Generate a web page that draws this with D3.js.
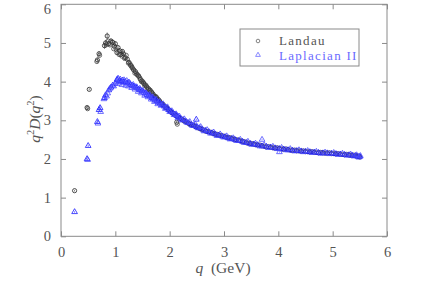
<!DOCTYPE html>
<html><head><meta charset="utf-8">
<script src="https://cdn.jsdelivr.net/npm/d3@7/dist/d3.min.js"></script>
<style>body{margin:0;background:#fff}</style>
</head><body><svg id="c" width="432" height="304"></svg>
<script>
const xTicks = [0,1,2,3,4,5,6];
const yTicks = [0,1,2,3,4,5,6];
const seriesNames = ["Landau", "Laplacian II"];

const qLandau = [0.25,0.48,0.52,0.67,0.70,0.80,0.82,0.85,0.88,0.92,0.95,0.98,1.00,1.03,1.05,1.08,1.10,1.13,1.15,1.18,1.22,1.25,1.28,1.31,1.34,1.37,1.40,1.43,1.46,1.49,1.52,1.55,1.58,1.61,1.64,1.67,1.70,1.73,1.76,1.79,1.82,1.86,1.90,1.94,1.98,2.02,2.06,2.10,2.13,2.16,2.20,2.25,2.30,2.35,2.40,2.45,2.50,2.55,2.60,2.66,2.72,2.78,2.84,2.90,2.96,3.02,3.08,3.14,3.20,3.27,3.34,3.41,3.48,3.55,3.62,3.70,3.78,3.86,3.94,4.02,4.10,4.18,4.26,4.34,4.42,4.50,4.58,4.66,4.74,4.82,4.90,4.98,5.06,5.14,5.22,5.30,5.36,5.42,5.46,5.50];
const vLandau = [1.18,3.33,3.80,4.56,4.72,4.93,5.00,5.18,4.98,5.05,5.02,4.92,4.98,4.75,4.88,4.80,4.70,4.78,4.72,4.62,4.58,4.50,4.42,4.36,4.30,4.26,4.18,4.14,4.06,4.02,3.96,3.92,3.86,3.82,3.78,3.72,3.66,3.62,3.58,3.54,3.48,3.42,3.37,3.33,3.28,3.22,3.19,3.14,2.95,3.08,3.05,3.00,2.96,2.92,2.88,2.86,2.82,2.79,2.76,2.72,2.70,2.67,2.64,2.62,2.60,2.57,2.55,2.53,2.50,2.48,2.45,2.42,2.40,2.38,2.36,2.34,2.31,2.30,2.28,2.27,2.25,2.24,2.22,2.21,2.20,2.19,2.18,2.17,2.16,2.16,2.15,2.14,2.13,2.12,2.11,2.10,2.09,2.08,2.07,2.05];
const eLandau = [0.02,0.04,0.03,0.06,0.07,0.08,0.08,0.09,0.07,0.07,0.06,0.06,0.06,0.05,0.05,0.05,0.05,0.05,0.04,0.04,0.04,0.04,0.04,0.04,0.04,0.03,0.03,0.03,0.03,0.03,0.03,0.03,0.03,0.03,0.03,0.03,0.03,0.03,0.03,0.03,0.03,0.03,0.03,0.03,0.03,0.03,0.03,0.03,0.03,0.02,0.02,0.02,0.02,0.02,0.02,0.02,0.02,0.02,0.02,0.02,0.02,0.02,0.02,0.02,0.02,0.02,0.02,0.02,0.02,0.02,0.02,0.02,0.02,0.02,0.02,0.02,0.02,0.02,0.02,0.02,0.02,0.02,0.02,0.02,0.02,0.02,0.02,0.02,0.02,0.02,0.02,0.02,0.02,0.02,0.02,0.02,0.02,0.02,0.02,0.02];

// second set of Landau lattice points (other volumes)
const qLandau2 = [0.49,0.66,0.71,0.83,0.87,0.90,0.97,1.02,1.07,1.12,1.17,1.20,1.24,1.27,1.30,1.33,1.36,1.39,1.42,1.45,1.48,1.51,1.54,1.57,1.60,1.63,1.66,1.69,1.72,1.75,1.78,1.81,1.84,1.88,1.92,1.96,2.00,2.04,2.08,2.12,2.14,2.18,2.22,2.27,2.32,2.37,2.42,2.47,2.52,2.57,2.63,2.69,2.75,2.81,2.87,2.93,2.99,3.05,3.11,3.17,3.23,3.30,3.37,3.44,3.51,3.58,3.66,3.74,3.82,3.90,3.98,4.06,4.14,4.22,4.30,4.38,4.46,4.54,4.62,4.70,4.78,4.86,4.94,5.02,5.10,5.18,5.26,5.33,5.39,5.44,5.48];
const vLandau2 = [3.30,4.52,4.68,4.95,5.05,4.95,4.85,4.82,4.70,4.66,4.60,4.68,4.48,4.46,4.40,4.32,4.22,4.21,4.16,4.10,4.00,3.99,3.90,3.89,3.80,3.77,3.74,3.69,3.60,3.61,3.52,3.51,3.44,3.41,3.34,3.31,3.25,3.21,3.16,3.12,2.90,3.06,3.03,2.98,2.95,2.90,2.88,2.84,2.81,2.78,2.75,2.71,2.69,2.66,2.64,2.61,2.59,2.56,2.55,2.52,2.50,2.47,2.45,2.41,2.40,2.37,2.36,2.33,2.32,2.29,2.29,2.26,2.26,2.23,2.23,2.21,2.21,2.19,2.19,2.17,2.17,2.15,2.16,2.14,2.14,2.12,2.12,2.10,2.10,2.08,2.07];

const qLap = [0.25,0.48,0.50,0.67,0.70,0.72,0.80,0.82,0.88,0.92,0.95,1.00,1.03,1.05,1.08,1.10,1.13,1.15,1.18,1.22,1.25,1.28,1.31,1.34,1.37,1.40,1.43,1.46,1.49,1.52,1.55,1.58,1.61,1.64,1.67,1.70,1.73,1.76,1.79,1.82,1.86,1.90,1.94,1.98,2.02,2.06,2.10,2.13,2.16,2.20,2.25,2.30,2.35,2.40,2.45,2.49,2.50,2.55,2.60,2.66,2.72,2.78,2.84,2.90,2.96,3.02,3.08,3.14,3.20,3.27,3.34,3.41,3.48,3.55,3.62,3.70,3.78,3.86,3.94,4.02,4.10,4.18,4.26,4.34,4.42,4.50,4.58,4.66,4.74,4.82,4.90,4.98,5.06,5.14,5.22,5.30,5.36,5.42,5.46,5.50];
const vLap = [0.63,2.00,2.34,2.96,3.27,3.32,3.58,3.65,3.78,3.85,3.90,3.95,4.05,4.08,4.02,4.00,4.03,3.98,4.00,3.96,3.98,3.92,3.90,3.88,3.86,3.84,3.80,3.78,3.76,3.72,3.70,3.66,3.64,3.62,3.58,3.55,3.52,3.50,3.46,3.44,3.40,3.36,3.32,3.27,3.23,3.19,3.15,3.12,3.09,3.05,3.01,2.97,2.93,2.89,2.86,3.02,2.83,2.80,2.77,2.73,2.70,2.67,2.64,2.61,2.59,2.57,2.54,2.52,2.50,2.47,2.45,2.42,2.40,2.38,2.36,2.33,2.32,2.30,2.28,2.26,2.25,2.23,2.22,2.21,2.20,2.19,2.18,2.17,2.16,2.15,2.15,2.14,2.13,2.12,2.11,2.10,2.09,2.08,2.07,2.06];
const eLap = [0.02,0.03,0.03,0.04,0.05,0.06,0.06,0.06,0.05,0.05,0.05,0.05,0.05,0.04,0.04,0.04,0.04,0.04,0.04,0.04,0.04,0.03,0.03,0.03,0.03,0.03,0.03,0.03,0.03,0.03,0.03,0.03,0.03,0.03,0.03,0.03,0.03,0.03,0.03,0.03,0.03,0.03,0.03,0.03,0.03,0.03,0.02,0.02,0.02,0.02,0.02,0.02,0.02,0.02,0.02,0.02,0.02,0.02,0.02,0.02,0.02,0.02,0.02,0.02,0.02,0.02,0.02,0.02,0.02,0.02,0.02,0.02,0.02,0.02,0.02,0.02,0.02,0.02,0.02,0.02,0.02,0.02,0.02,0.02,0.02,0.02,0.02,0.02,0.02,0.02,0.02,0.02,0.02,0.02,0.02,0.02,0.02,0.02,0.02,0.02];

// second set of Laplacian II lattice points
const qLap2 = [0.49,0.68,0.73,0.79,0.84,0.86,0.90,0.97,1.02,1.06,1.09,1.12,1.16,1.19,1.21,1.24,1.27,1.30,1.33,1.36,1.39,1.42,1.45,1.48,1.51,1.54,1.57,1.60,1.63,1.66,1.69,1.72,1.75,1.78,1.81,1.84,1.88,1.92,1.96,2.00,2.04,2.08,2.12,2.15,2.18,2.22,2.27,2.32,2.37,2.42,2.47,2.52,2.57,2.63,2.69,2.75,2.81,2.87,2.93,2.99,3.05,3.11,3.17,3.23,3.30,3.37,3.44,3.51,3.58,3.66,3.70,3.74,3.82,3.90,3.98,4.02,4.06,4.14,4.22,4.30,4.38,4.46,4.54,4.62,4.70,4.78,4.86,4.94,5.02,5.10,5.18,5.26,5.33,5.39,5.44,5.48,5.51];
const vLap2 = [1.98,2.92,3.22,3.55,3.62,3.70,3.82,3.88,4.00,3.95,4.06,3.92,4.04,3.90,4.02,3.88,3.95,3.84,3.92,3.80,3.86,3.74,3.82,3.70,3.76,3.64,3.70,3.60,3.66,3.54,3.60,3.48,3.54,3.42,3.48,3.38,3.42,3.30,3.34,3.22,3.24,3.14,3.16,3.06,3.10,3.00,3.03,2.94,2.96,2.86,2.90,2.80,2.83,2.72,2.75,2.66,2.69,2.60,2.64,2.56,2.59,2.51,2.54,2.47,2.50,2.42,2.45,2.37,2.40,2.33,2.50,2.36,2.29,2.32,2.26,2.18,2.29,2.23,2.26,2.20,2.23,2.18,2.21,2.16,2.19,2.14,2.17,2.13,2.16,2.11,2.14,2.09,2.12,2.07,2.10,2.04,2.08];

const svg = d3.select("#c");
const L = 61, R = 387, T = 4.3, B = 236.3;
const x = d3.scaleLinear().domain([0,6]).range([L,R]);
const y = d3.scaleLinear().domain([0,6]).range([B,T]);
const axisCol = "#8a8a8a", textCol = "#555";
const tickFont = "Liberation Serif, serif";

svg.append("rect").attr("x",L).attr("y",T).attr("width",R-L).attr("height",B-T)
  .attr("fill","none").attr("stroke",axisCol).attr("stroke-width",1);

function styleAxis(g){
  g.select(".domain").remove();
  g.selectAll(".tick line").attr("stroke",axisCol);
  g.selectAll(".tick text").attr("fill",textCol).attr("font-family",tickFont).attr("font-size",14.5);
}
svg.append("g").attr("transform",`translate(0,${B})`)
  .call(d3.axisBottom(x).tickValues(xTicks).tickSize(-5).tickPadding(10).tickFormat(d3.format("d"))).call(styleAxis);
const yAxisG = svg.append("g").attr("transform",`translate(${L},0)`)
  .call(d3.axisLeft(y).tickValues(yTicks).tickSize(-5).tickPadding(10).tickFormat(d3.format("d"))).call(styleAxis);
// keep the top label inside the page
yAxisG.selectAll(".tick text").filter(d=>d===6).attr("dy","0.6em");
svg.append("g").attr("transform",`translate(0,${T})`)
  .call(d3.axisTop(x).tickValues(xTicks).tickSize(-5).tickFormat("")).call(styleAxis);
svg.append("g").attr("transform",`translate(${R},0)`)
  .call(d3.axisRight(y).tickValues(yTicks).tickSize(-5).tickFormat("")).call(styleAxis);

const xt = svg.append("text").attr("x",223).attr("y",273).attr("text-anchor","middle")
  .attr("fill",textCol).attr("font-family",tickFont).attr("font-size",15.5);
xt.append("tspan").attr("font-style","italic").text("q");
xt.append("tspan").text("\u00a0\u00a0(GeV)");

const yt = svg.append("text").attr("transform","translate(40,119) rotate(-90)").attr("text-anchor","middle")
  .attr("fill",textCol).attr("font-family",tickFont).attr("font-size",15.5);
yt.append("tspan").attr("font-style","italic").text("q");
yt.append("tspan").attr("font-size",10.5).attr("dy",-6).text("2");
yt.append("tspan").attr("font-style","italic").attr("dy",6).text("D");
yt.append("tspan").text("(");
yt.append("tspan").attr("font-style","italic").text("q");
yt.append("tspan").attr("font-size",10.5).attr("dy",-6).text("2");
yt.append("tspan").attr("dy",6).text(")");

const blackCol = "#222", blueCol = "#1a1aff";
const tri = d3.symbol().type(d3.symbolTriangle).size(14);

function drawSeries(qs, vs, es, col, kind){
  const g = svg.append("g");
  const d = qs.map((q,i)=>({q, v:vs[i], e: es ? es[i] : 0.02}));
  g.selectAll("line.err").data(d).join("line")
    .attr("x1",p=>x(p.q)).attr("x2",p=>x(p.q))
    .attr("y1",p=>y(p.v-p.e)).attr("y2",p=>y(p.v+p.e))
    .attr("stroke",col).attr("stroke-width",0.7).attr("opacity",0.8);
  if(kind==="circle"){
    g.selectAll("circle").data(d).join("circle")
      .attr("cx",p=>x(p.q)).attr("cy",p=>y(p.v)).attr("r",2.1)
      .attr("fill","none").attr("stroke",col).attr("stroke-width",0.8);
  } else {
    g.selectAll("path.m").data(d).join("path")
      .attr("transform",p=>`translate(${x(p.q)},${y(p.v)})`).attr("d",tri)
      .attr("fill","none").attr("stroke",col).attr("stroke-width",0.8);
  }
}
drawSeries(qLandau, vLandau, eLandau, blackCol, "circle");
drawSeries(qLandau2, vLandau2, null, "#444", "circle");
drawSeries(qLap, vLap, eLap, blueCol, "tri");
drawSeries(qLap2, vLap2, null, "#4a4aff", "tri");

// legend
svg.append("rect").attr("x",240).attr("y",29).attr("width",119).attr("height",37)
  .attr("fill","#fff").attr("stroke",axisCol).attr("stroke-width",1);
svg.append("circle").attr("cx",258).attr("cy",41).attr("r",1.8).attr("fill","none").attr("stroke","#666").attr("stroke-width",0.8);
svg.append("path").attr("transform","translate(258,55)").attr("d",d3.symbol().type(d3.symbolTriangle).size(10)).attr("fill","none").attr("stroke","#6a6aff").attr("stroke-width",0.8);
svg.append("text").attr("x",279).attr("y",45).attr("fill","#555").attr("font-family","Liberation Serif, serif").attr("font-size",13).attr("letter-spacing",1.3).text(seriesNames[0]);
svg.append("text").attr("x",279).attr("y",59.5).attr("fill","#6a6aff").attr("font-family","Liberation Serif, serif").attr("font-size",13).attr("letter-spacing",1.3).text(seriesNames[1]);
</script></body></html>
